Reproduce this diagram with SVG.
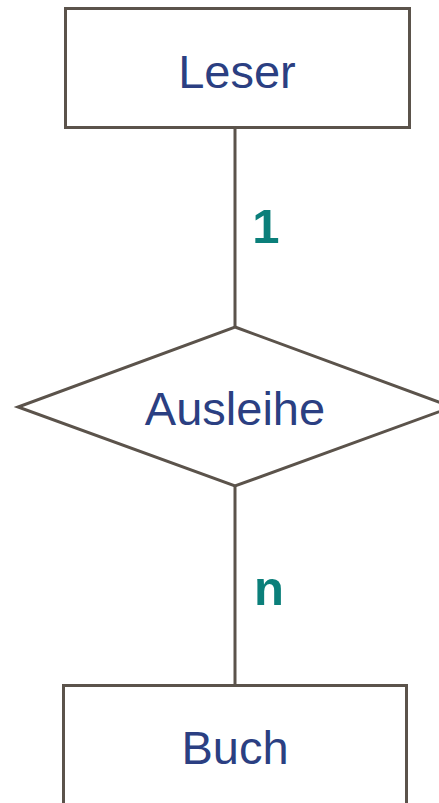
<svg xmlns="http://www.w3.org/2000/svg" width="439" height="803" viewBox="0 0 439 803">
<style>
.shape{fill:#fff;stroke:#5b534b;stroke-width:3}
.conn{stroke:#5b534b;stroke-width:3;fill:none}
.lbl{font-family:"Liberation Sans",Arial,sans-serif;font-size:47px;fill:#2b3f82;text-anchor:middle}
.card{font-family:"Liberation Sans",Arial,sans-serif;font-size:49px;font-weight:bold;fill:#0b7f7a;text-anchor:middle}
</style>
<rect width="439" height="803" fill="#fff"/>
<g id="connectors">
<line class="conn" x1="235" y1="128" x2="235" y2="327"/>
<line class="conn" x1="235" y1="486" x2="235" y2="686"/>
<text class="card" x="266" y="243">1</text>
<text class="card" x="269" y="605">n</text>
</g>
<g id="leser">
<rect class="shape" x="65.5" y="8.5" width="344" height="119"/>
<text class="lbl" x="237" y="88">Leser</text>
</g>
<g id="ausleihe">
<polygon class="shape" points="235,327 452,407 235,486 18,407"/>
<text class="lbl" x="235" y="425">Ausleihe</text>
</g>
<g id="buch">
<rect class="shape" x="63.5" y="685.5" width="343" height="130"/>
<text class="lbl" x="235" y="764">Buch</text>
</g>
</svg>
